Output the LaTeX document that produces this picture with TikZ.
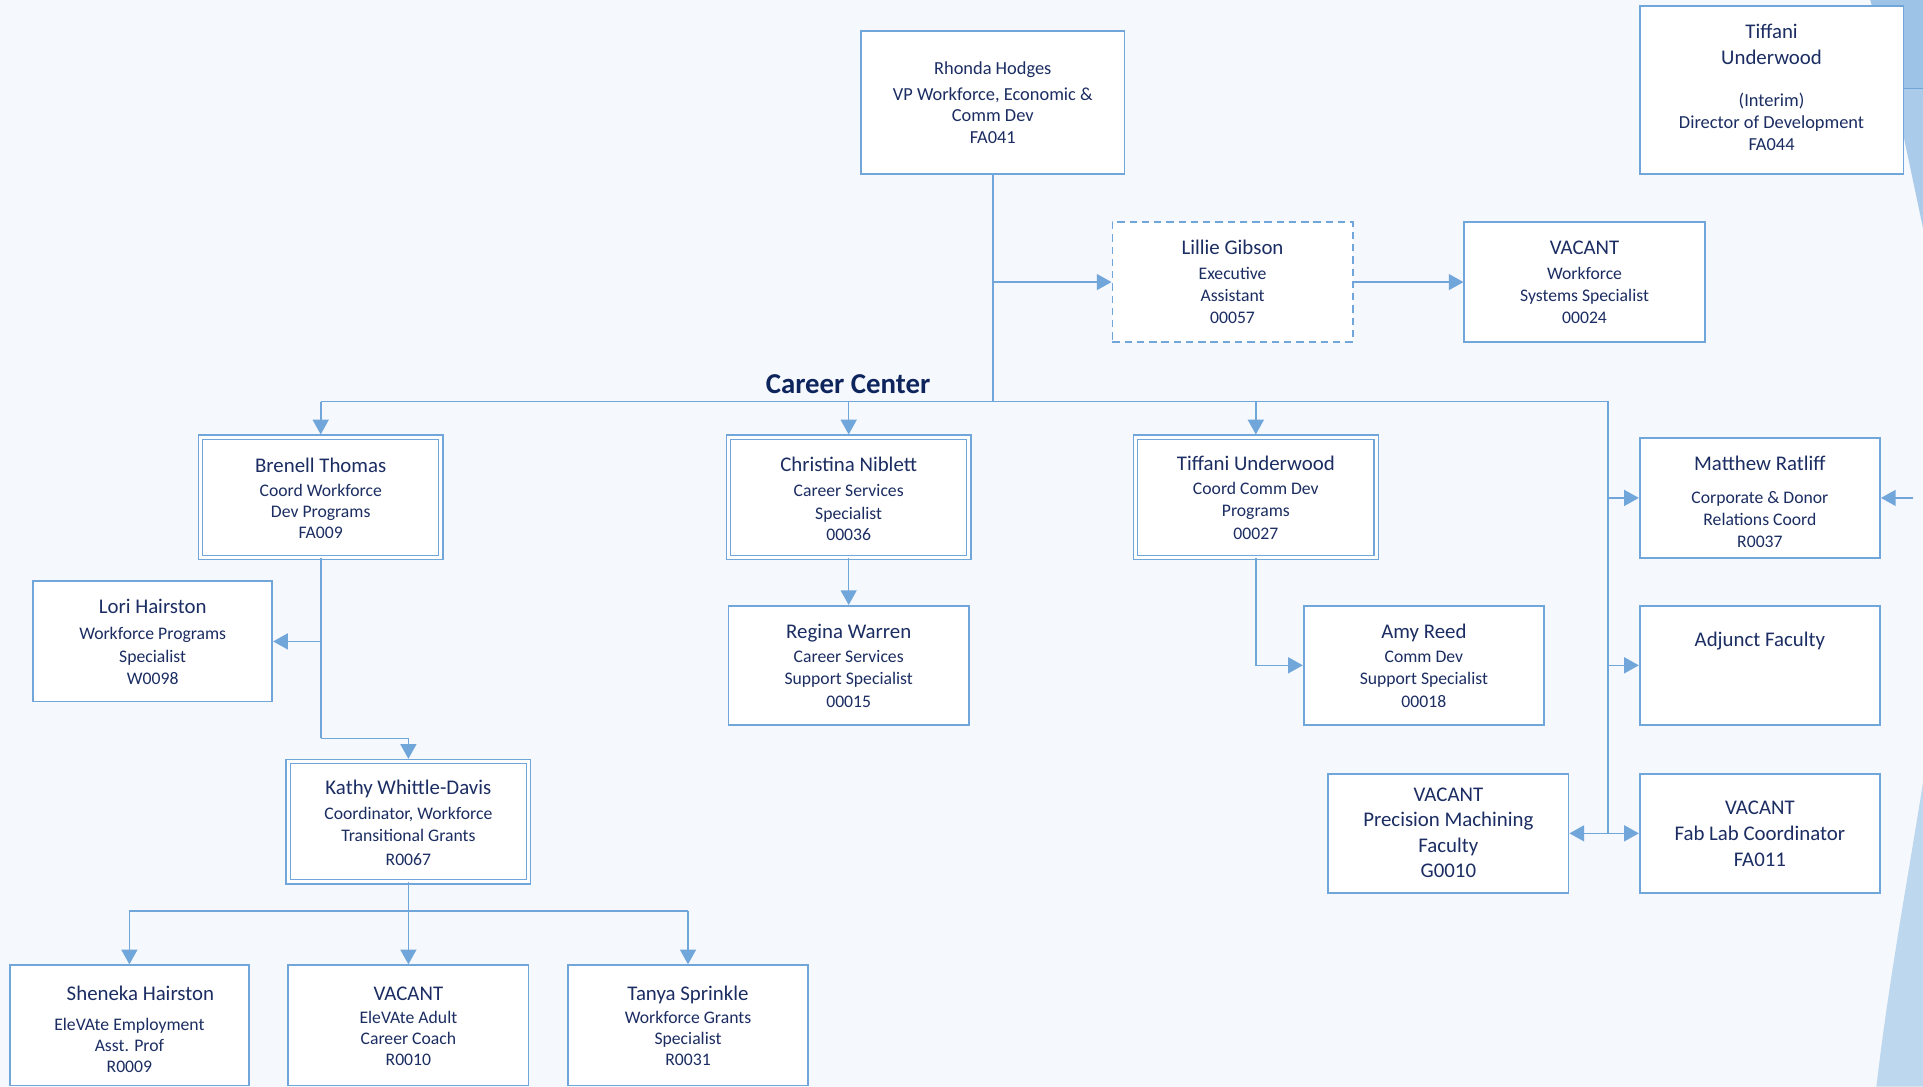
\documentclass[tikz,border=0pt]{standalone}
\usepackage{fontspec}
\setmainfont{Carlito}
\usetikzlibrary{arrows.meta}
\definecolor{lc}{RGB}{112,166,218}
\definecolor{tc}{RGB}{27,45,98}
\definecolor{cc}{RGB}{14,36,92}
\definecolor{bg}{RGB}{245,248,252}
\definecolor{decoA}{RGB}{157,195,230}
\definecolor{decoB}{RGB}{170,203,234}
\definecolor{decoC}{RGB}{189,215,238}
\newcommand\nmf{\fontsize{17}{20}\selectfont}
\newcommand\topst[1]{\rule{0pt}{#1pt}}
\newcommand\botst[1]{\rule[-#1pt]{0pt}{0pt}}
\begin{document}
\begin{tikzpicture}[x=1pt,y=-1pt,
  box/.style={draw=lc, line width=1.4pt, fill=white, rectangle, inner sep=0pt,
    minimum width=196pt, minimum height=98pt, align=center, text=tc,
    font=\fontsize{14.4}{18}\selectfont},
  dbox/.style={box, line width=1.1pt, double=white, double distance=2.4pt},
  dashbox/.style={box, dash pattern=on 6pt off 4pt},
  conn/.style={draw=lc, line width=1.3pt},
  arr/.style={conn, -{Triangle[length=12pt,width=13pt]}},
  darr/.style={arr, shorten >=1.7pt},
]
\useasboundingbox (0,0) rectangle (1568,886);
\fill[bg] (0,0) rectangle (1568,886);
% right edge decoration
\fill[decoA] (1525,0) -- (1568,0) -- (1568,72) -- (1545,72) -- cycle;
\fill[decoB] (1545,72) -- (1568,72) -- (1568,186) -- (1553,115) -- cycle;
\draw[lc, line width=1pt] (1545,72) -- (1568,72);
\fill[decoC] (1568,638) .. controls (1555,720) and (1540,800) .. (1530,886) -- (1568,886) -- cycle;

% boxes
\node[box, minimum width=215pt, minimum height=117pt, font=\fontsize{15}{17.5}\selectfont] (rh) at (809.5,83.5)
  {\topst{16.1}Rhonda Hodges\\[3.5pt] VP Workforce, Economic \&\\ Comm Dev\\[0.5pt] FA041\botst{5}};
\node[box, minimum width=215pt, minimum height=137pt, font=\fontsize{15}{18}\selectfont] (tu0) at (1444.5,73.5)
  {\topst{15}{\nmf Tiffani}\\[3pt] {\nmf Underwood}\\[16pt] (Interim)\\ Director of Development\\ FA044\botst{8}};
\node[dashbox] (lg) at (1005,230) {\topst{16}{\nmf Lillie Gibson}\\[2pt] Executive\\ Assistant\\ 00057\botst{5}};
\node[box] (vw) at (1292,230) {\topst{16}{\nmf VACANT}\\[2pt] Workforce\\ Systems Specialist\\ 00024\botst{5}};

\node[font=\bfseries\fontsize{23.5}{28}\selectfont, text=cc, inner sep=0pt] (ccl) at (691.5,313.5) {Career Center};

\node[dbox] (bt) at (261.5,405.5) {\topst{18.5}{\nmf Brenell Thomas}\\[1.5pt] Coord Workforce\\[-1pt] Dev Programs\\[-1pt] FA009\botst{5}};
\node[dbox] (cn) at (692,405.5) {\topst{19}{\nmf Christina Niblett}\\[2pt] Career Services\\[1pt] Specialist\\[-1pt] 00036\botst{5}};
\node[dbox] (tu) at (1024,405.5) {\topst{17}{\nmf Tiffani Underwood}\\[2pt] Coord Comm Dev\\ Programs\\ 00027\botst{5}};
\node[box] (mr) at (1435,406) {\topst{23}{\nmf Matthew Ratliff}\\[9pt] Corporate \& Donor\\ Relations Coord\\ R0037\botst{5}};
\node[box, minimum width=195pt] (lh) at (124.5,523) {\topst{18}{\nmf Lori Hairston}\\[3pt] Workforce Programs\\[1pt] Specialist\\ W0098\botst{5}};
\node[box, minimum height=97pt] (rw) at (692,542.5) {\topst{17}{\nmf Regina Warren}\\[2pt] Career Services\\ Support Specialist\\ 00015\botst{5}};
\node[box, minimum height=97pt] (ar) at (1161,542.5) {\topst{17}{\nmf Amy Reed}\\[2pt] Comm Dev\\ Support Specialist\\ 00018\botst{5}};
\node[box, minimum height=97pt] (af) at (1435,542.5) {\raisebox{15.5pt}[0pt][0pt]{\nmf Adjunct Faculty}};
\node[box, minimum height=97pt, font=\fontsize{17}{20.7}\selectfont] (pm) at (1181,679.5)
  {\topst{15.1}VACANT\\ Precision Machining\\ Faculty\\ G0010\botst{5}};
\node[box, minimum height=97pt, font=\fontsize{17}{21}\selectfont] (fl) at (1435,679.5)
  {\topst{17}VACANT\\ Fab Lab Coordinator\\ FA011\botst{5}};
\node[dbox] (kw) at (333,670) {\topst{18}{\nmf Kathy Whittle-Davis}\\[3pt] Coordinator, Workforce\\ Transitional Grants\\[1pt] R0067\botst{5}};
\node[box, minimum width=195pt] (sh) at (105.5,836) {\topst{23}\hspace*{18pt}{\nmf Sheneka Hairston}\\[7pt] EleVAte Employment\\[-1pt] Asst. Prof\\[-1pt] R0009\botst{5}};
\node[box] (va) at (333,836) {\topst{17}{\nmf VACANT}\\[1pt] EleVAte Adult\\[-1pt] Career Coach\\[-1pt] R0010\botst{5}};
\node[box] (ts) at (561,836) {\topst{17}{\nmf Tanya Sprinkle}\\[1pt] Workforce Grants\\[-1pt] Specialist\\[-1pt] R0031\botst{5}};

% connectors
\coordinate (hub) at (809.5,327.5);
\coordinate (rb) at (1311,327.5);
\draw[conn] (rh.south) -- (hub);
\draw[arr] (rh.south |- lg.west) -- (lg.west);
\draw[arr] (lg.east) -- (vw.west);
\draw[conn] (bt.north |- hub) -- (rb) -- (rb |- fl.west);
\draw[darr] (bt.north |- hub) -- (bt.north);
\draw[darr] (cn.north |- hub) -- (cn.north);
\draw[darr] (tu.north |- hub) -- (tu.north);
\draw[arr] (rb |- mr.west) -- (mr.west);
\draw[arr] (rb |- af.west) -- (af.west);
\draw[arr] (rb |- fl.west) -- (fl.west);
\draw[arr] (rb |- pm.east) -- (pm.east);
\coordinate (mrin) at (1560,406);
\draw[arr] (mrin) -- (mr.east);
\draw[arr] (cn.south) -- (rw.north);
\draw[arr] (tu.south) |- (ar.west);
\coordinate (bk) at (261.5,602);
\draw[conn] (bt.south) -- (bk);
\draw[darr] (bk) -| (kw.north);
\draw[arr] (bt.south |- lh.east) -- (lh.east);
\coordinate (kb) at (333,743);
\draw[conn] (kw.south) -- (kb);
\draw[conn] (sh.north |- kb) -- (ts.north |- kb);
\draw[arr] (sh.north |- kb) -- (sh.north);
\draw[arr] (kb) -- (va.north);
\draw[arr] (ts.north |- kb) -- (ts.north);
\end{tikzpicture}
\end{document}
